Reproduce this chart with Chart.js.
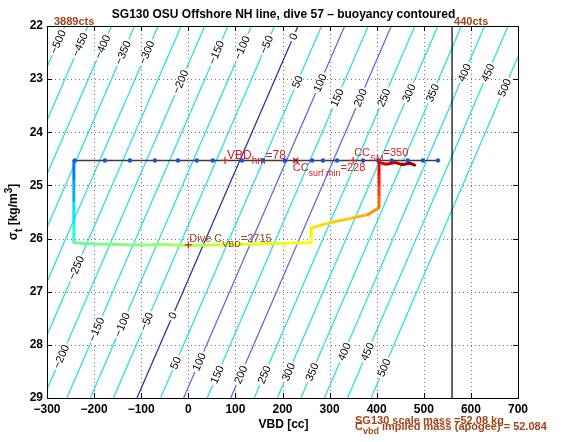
<!DOCTYPE html>
<html><head><meta charset="utf-8">
<script src="https://cdn.jsdelivr.net/npm/chart.js@4/dist/chart.umd.min.js"></script>
<style>html,body{margin:0;padding:0;background:#fff;}#wrap{width:569px;height:442px;}</style>
</head><body><div id="wrap"><canvas id="c" width="569" height="442"></canvas></div>
<script>
// ---------------- data ----------------
const contourLevels    = [-500,-450,-400,-350,-300,-250,-200,-150,-100,-50,0,50,100,150,200,250,300,350,400,450,500];
const contourVBDTop    = [-262,-213,-163,-114,-64,-15,35,84,134,183,233,283,332,382,431,481,530,580,629,679,728];   // VBD at sigma 22
const contourVBDBottom = [-606,-556,-507,-457,-407,-358,-308,-258,-208,-159,-109,-59,-10,40,90,140,189,239,289,338,388]; // VBD at sigma 29
const labelSigmaUpper  = [22.30,22.35,22.39,22.50,22.50,null,23.05,22.50,22.41,22.35,22.20,23.05,23.07,23.35,23.35,23.35,23.26,23.26,22.88,22.88,23.16];
const labelSigmaLower  = [null,null,null,null,null,26.55,28.22,27.71,27.62,27.56,27.45,28.34,28.32,28.56,28.56,28.56,28.51,28.51,28.13,28.13,28.43];

const surfaceSigma = 24.53;
const surfaceVBD   = [-241,-177,-124,-71,-22,18,52,114,159,205,263,286,316,371,403,432,466,498,530];

const traceVBD   = [-243,-243,-243,-243,-243, -243,-200,-150,-100,-50,0,50,100,150,200,261, 261,261, 301,350,381,405, 405,405,405,405, 420,440,455,470,481];
const traceSigma = [24.53,24.9,25.3,25.7,26.03, 26.08,26.10,26.11,26.12,26.11,26.13,26.12,26.11,26.10,26.09,26.08, 25.95,25.80, 25.70,25.61,25.55,25.42, 25.2,25.0,24.8,24.57, 24.60,24.57,24.61,24.58,24.62];
const traceTime  = [0,7,13,20,28, 32,34,36,38,40,42,44,46,48,49,51, 53,55, 57,60,63,68, 73,79,83,87, 89,92,95,97,100];

const countsVBD    = [-300, 560];
const countsLabels = ['3889cts', '440cts'];

const markVBDhm = 78, markCCsurf = 228, markCCSM = 350, markDiveC = 0, diveCSigma = 26.12;
const diveCVBD = 2715;

const titleText = 'SG130 OSU Offshore NH line, dive 57 \u2013 buoyancy contoured';
const xAxisTitle = 'VBD [cc]';
const scaleMassText = 'SG130 scale mass =52.08 kg';
const impliedMassText = ' implied mass (apogee) = 52.084';

// ---------------- helpers ----------------
const FONT = '"Liberation Sans", Arial, Helvetica, sans-serif';
const fmt = v => String(v).replace('-', '\u2212');
function jet(c){
  const f = v => Math.round(255*Math.max(0, Math.min(1, v)));
  return `rgb(${f(1.5-Math.abs(4*c-3))},${f(1.5-Math.abs(4*c-2))},${f(1.5-Math.abs(4*c-1))})`;
}
const tMax = Math.max(...traceTime);
const cOf = t => 0.22 + 0.78 * t / tMax;

function contourColor(l){
  if (l === 0) return '#1f3c9e';
  if (l === 100 || l === 200) return '#5b6fd6';
  return 'rgb(45,222,222)';
}

function richWidth(ctx, parts, size, bold){
  let w = 0;
  for (const [t, k] of parts){
    const fs = k === 'n' ? size : Math.round(size*0.8);
    ctx.font = `${bold?'bold ':''}${fs}px ${FONT}`;
    w += ctx.measureText(t).width;
  }
  return w;
}
function drawRich(ctx, x, y, parts, color, size, bold){
  let cx = x;
  ctx.fillStyle = color; ctx.textAlign = 'left'; ctx.textBaseline = 'alphabetic';
  for (const [t, k] of parts){
    const fs = k === 'n' ? size : Math.round(size*0.8);
    const dy = k === 'sub' ? size*0.38 : (k === 'sup' ? -size*0.42 : 0);
    ctx.font = `${bold?'bold ':''}${fs}px ${FONT}`;
    ctx.fillText(t, cx, y + dy);
    cx += ctx.measureText(t).width;
  }
}
function plus(ctx, x, y, s, col){
  ctx.strokeStyle = col; ctx.lineWidth = 1.2; ctx.beginPath();
  ctx.moveTo(x-s, y); ctx.lineTo(x+s, y); ctx.moveTo(x, y-s); ctx.lineTo(x, y+s); ctx.stroke();
}
function cross(ctx, x, y, s, col){
  ctx.strokeStyle = col; ctx.lineWidth = 1.3; ctx.beginPath();
  ctx.moveTo(x-s, y-s); ctx.lineTo(x+s, y+s); ctx.moveTo(x+s, y-s); ctx.lineTo(x-s, y+s); ctx.stroke();
}

// ---------------- datasets ----------------
const datasets = [];
contourLevels.forEach((l, i) => {
  datasets.push({
    data: [{x: contourVBDTop[i], y: 22}, {x: contourVBDBottom[i], y: 29}],
    showLine: true, borderColor: contourColor(l), borderWidth: 1.3, pointRadius: 0, order: 10
  });
});
datasets.push({
  data: [{x: countsVBD[1], y: 22}, {x: countsVBD[1], y: 29}],
  showLine: true, borderColor: '#000', borderWidth: 1.2, pointRadius: 0, order: 5
});
datasets.push({
  data: surfaceVBD.map(v => ({x: v, y: surfaceSigma})),
  showLine: true, borderColor: '#3c3c3c', borderWidth: 1.5,
  pointRadius: 2.2, pointBackgroundColor: '#1d4de6', pointBorderWidth: 0, order: 2
});
datasets.push({
  data: traceVBD.map((v, i) => ({x: v, y: traceSigma[i]})),
  showLine: true, borderWidth: 3, pointRadius: 1.3, pointBorderWidth: 0,
  pointBackgroundColor: traceTime.map(t => jet(cOf(t))),
  segment: { borderColor: ctx => jet(cOf((traceTime[ctx.p0DataIndex] + traceTime[ctx.p1DataIndex]) / 2)) },
  order: 1
});

// ---------------- plugins ----------------
const decor = {
  id: 'decor',
  beforeDatasetsDraw(chart){
    const {ctx, chartArea: a, scales: {x, y}} = chart;
    ctx.save();
    ctx.strokeStyle = '#777'; ctx.lineWidth = 1; ctx.setLineDash([1, 3]);
    x.ticks.forEach(t => {
      if (t.value <= x.min || t.value >= x.max) return;
      const p = Math.round(x.getPixelForValue(t.value)) + 0.5;
      ctx.beginPath(); ctx.moveTo(p, a.top); ctx.lineTo(p, a.bottom); ctx.stroke();
    });
    y.ticks.forEach(t => {
      if (t.value <= y.min || t.value >= y.max) return;
      const p = Math.round(y.getPixelForValue(t.value)) + 0.5;
      ctx.beginPath(); ctx.moveTo(a.left, p); ctx.lineTo(a.right, p); ctx.stroke();
    });
    ctx.restore();
  },
  afterDatasetsDraw(chart){
    const {ctx, chartArea: a, scales: {x, y}} = chart;
    // contour labels
    ctx.save();
    ctx.beginPath(); ctx.rect(a.left, a.top, a.right - a.left, a.bottom - a.top); ctx.clip();
    ctx.font = `11px ${FONT}`;
    contourLevels.forEach((l, i) => {
      const xt = x.getPixelForValue(contourVBDTop[i]), yt = y.getPixelForValue(22);
      const xb = x.getPixelForValue(contourVBDBottom[i]), yb = y.getPixelForValue(29);
      const ang = Math.atan2(yt - yb, xt - xb);
      [labelSigmaUpper[i], labelSigmaLower[i]].forEach(s => {
        if (s == null) return;
        const f = (s - 22) / 7;
        const v = contourVBDTop[i] + (contourVBDBottom[i] - contourVBDTop[i]) * f;
        const px = x.getPixelForValue(v), py = y.getPixelForValue(s);
        const txt = fmt(l);
        const w = ctx.measureText(txt).width;
        ctx.save(); ctx.translate(px, py); ctx.rotate(ang);
        ctx.fillStyle = '#fff'; ctx.fillRect(-w/2 - 2, -4.5, w + 4, 9);
        ctx.fillStyle = '#000'; ctx.textAlign = 'center'; ctx.textBaseline = 'middle';
        ctx.fillText(txt, 0, 0.5);
        ctx.restore();
      });
    });
    ctx.restore();

    // annotations
    ctx.save();
    const ys = y.getPixelForValue(surfaceSigma);
    const red = '#d42020', brown = '#9c3d14';
    let p = x.getPixelForValue(markVBDhm);
    plus(ctx, p, ys, 3.5, red);
    drawRich(ctx, p + 2, ys - 1, [['VBD','n'],['hm','sub'],['=' + markVBDhm,'n']], red, 12, false);
    p = x.getPixelForValue(markCCsurf);
    cross(ctx, p, ys, 2.5, '#b01010');
    drawRich(ctx, p - 3, ys + 11, [['CC','n'],['surf min','sub'],['=' + markCCsurf,'n']], red, 11, false);
    p = x.getPixelForValue(markCCSM);
    plus(ctx, p, ys, 3.5, red);
    drawRich(ctx, p + 1, ys - 4, [['CC','n'],['SM','sub'],['=' + markCCSM,'n']], red, 11, false);
    p = x.getPixelForValue(markDiveC);
    const yd = y.getPixelForValue(diveCSigma);
    plus(ctx, p, yd, 3.5, red);
    drawRich(ctx, p + 1, yd - 2.5, [['Dive C','n'],['VBD','sub'],['=' + diveCVBD,'n']], brown, 11, false);

    // box + inward ticks
    ctx.strokeStyle = '#000'; ctx.lineWidth = 1; ctx.setLineDash([]);
    ctx.strokeRect(Math.round(a.left) + 0.5, Math.round(a.top) + 0.5, Math.round(a.right - a.left), Math.round(a.bottom - a.top));
    const tl = 5;
    ctx.beginPath();
    x.ticks.forEach(t => {
      const q = Math.round(x.getPixelForValue(t.value)) + 0.5;
      ctx.moveTo(q, a.bottom); ctx.lineTo(q, a.bottom - tl);
      ctx.moveTo(q, a.top); ctx.lineTo(q, a.top + tl);
    });
    y.ticks.forEach(t => {
      const q = Math.round(y.getPixelForValue(t.value)) + 0.5;
      ctx.moveTo(a.left, q); ctx.lineTo(a.left + tl, q);
      ctx.moveTo(a.right, q); ctx.lineTo(a.right - tl, q);
    });
    ctx.stroke();
    ctx.restore();
  },
  afterDraw(chart){
    const {ctx, chartArea: a, scales: {x, y}} = chart;
    ctx.save();
    const cx = (a.left + a.right) / 2;
    ctx.fillStyle = '#000'; ctx.textAlign = 'center'; ctx.textBaseline = 'alphabetic';
    ctx.font = `bold 12px ${FONT}`;
    ctx.fillText(titleText, cx + 1, 18);
    ctx.fillText(xAxisTitle, cx + 1, 428);
    // y axis title
    const parts = [['\u03c3','n'],['t','sub'],[' [kg/m','n'],['3','sup'],[']','n']];
    const w = richWidth(ctx, parts, 12, true);
    ctx.translate(17, (a.top + a.bottom) / 2); ctx.rotate(-Math.PI / 2);
    drawRich(ctx, -w / 2, 0, parts, '#000', 12, true);
    ctx.setTransform(1, 0, 0, 1, 0, 0);
    // counts labels
    const brown = '#a3441a';
    ctx.font = `bold 11px ${FONT}`; ctx.fillStyle = brown; ctx.textAlign = 'left';
    ctx.fillText(countsLabels[0], x.getPixelForValue(countsVBD[0]) + 7, 25);
    ctx.fillText(countsLabels[1], x.getPixelForValue(countsVBD[1]) + 2, 25);
    // bottom-right mass texts
    drawRich(ctx, 355, 424, [[scaleMassText,'n']], brown, 11, true);
    drawRich(ctx, 355, 430, [['C','n'],['vbd','sub'],[impliedMassText,'n']], brown, 11, true);
    ctx.restore();
  }
};

new Chart(document.getElementById('c'), {
  type: 'scatter',
  data: { datasets },
  options: {
    responsive: false, animation: false, devicePixelRatio: 1,
    layout: { padding: { left: 0, right: 51, top: 26, bottom: 0 } },
    plugins: { legend: { display: false }, tooltip: { enabled: false }, title: { display: false } },
    elements: { line: { tension: 0 } },
    scales: {
      x: {
        type: 'linear', min: -300, max: 700, position: 'bottom',
        grid: { display: false, drawTicks: false }, border: { display: false },
        ticks: { stepSize: 100, autoSkip: false, maxRotation: 0, padding: 4, color: '#000',
                 font: { family: FONT, size: 12, weight: 'bold' }, callback: v => fmt(v) },
        afterFit: s => { s.height = 44; }
      },
      y: {
        type: 'linear', min: 22, max: 29, reverse: true,
        grid: { display: false, drawTicks: false }, border: { display: false },
        ticks: { stepSize: 1, autoSkip: false, padding: 4, color: '#000',
                 font: { family: FONT, size: 12, weight: 'bold' }, callback: v => fmt(v) },
        afterFit: s => { s.width = 47; }
      }
    }
  },
  plugins: [decor]
});
</script>
</body></html>
